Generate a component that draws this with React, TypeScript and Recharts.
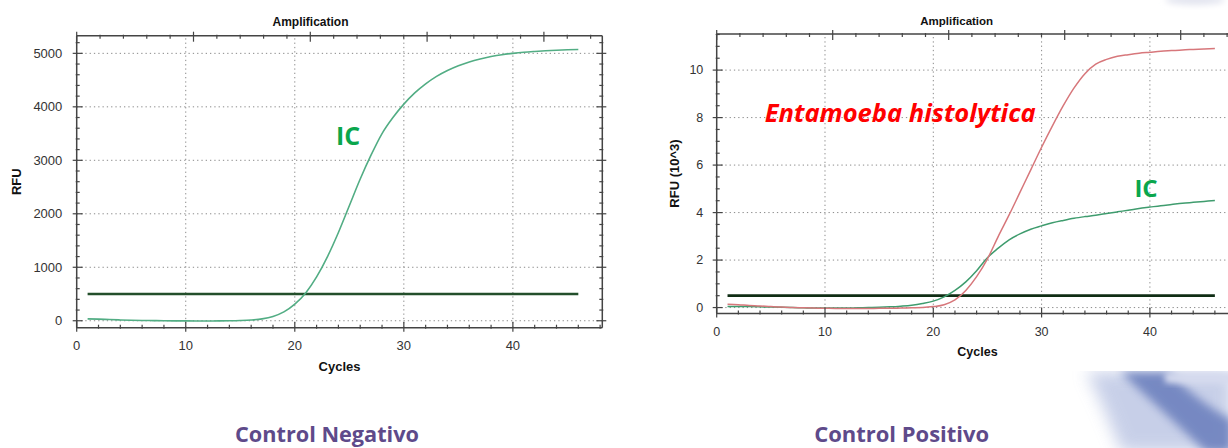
import React from 'react';
import { LineChart, Line, XAxis, YAxis, ReferenceLine } from 'recharts';

// ---------- data ----------
const cycles = [1, 2, 3, 4, 5, 6, 7, 8, 9, 10, 11, 12, 13, 14, 15, 16, 17, 18, 19, 20, 21, 22, 23, 24, 25, 26, 27, 28, 29, 30, 31, 32, 33, 34, 35, 36, 37, 38, 39, 40, 41, 42, 43, 44, 45, 46];

// Control Negativo: IC (RFU)
const negIC = [35, 30, 22, 15, 10, 6, 3, 0, -2, -3, -4, -4, -3, -1, 4, 14, 35, 80, 165, 310, 520, 820, 1200, 1650, 2150, 2650, 3100, 3500, 3800, 4050, 4260, 4430, 4570, 4680, 4770, 4840, 4895, 4940, 4975, 5000, 5020, 5035, 5048, 5058, 5066, 5072];

// Control Positivo (RFU x10^3)
const posIC = [0.05, 0.05, 0.04, 0.03, 0.02, 0.01, 0.0, -0.01, -0.02, -0.02, -0.02, -0.02, -0.01, 0.0, 0.01, 0.03, 0.06, 0.1, 0.17, 0.27, 0.45, 0.72, 1.08, 1.55, 2.1, 2.5, 2.85, 3.1, 3.3, 3.44, 3.57, 3.67, 3.76, 3.83, 3.89, 3.96, 4.03, 4.1, 4.17, 4.23, 4.29, 4.34, 4.39, 4.43, 4.47, 4.51];
const posEh = [0.14, 0.12, 0.09, 0.07, 0.04, 0.02, 0.0, -0.01, -0.02, -0.03, -0.04, -0.04, -0.04, -0.04, -0.03, -0.03, -0.02, -0.01, 0.0, 0.04, 0.12, 0.32, 0.72, 1.3, 2.05, 3.0, 3.9, 4.85, 5.8, 6.75, 7.65, 8.5, 9.25, 9.85, 10.25, 10.45, 10.58, 10.65, 10.71, 10.75, 10.79, 10.82, 10.85, 10.87, 10.89, 10.91];

const thresholdNeg = 500;
const thresholdPos = 0.5;

const xTicks = [0, 2, 4, 6, 8, 10, 12, 14, 16, 18, 20, 22, 24, 26, 28, 30, 32, 34, 36, 38, 40, 42, 44, 46, 48];
const xMajor = [0, 10, 20, 30, 40];
const xGrid = [10, 20, 30, 40];

const negYTicks = [0, 200, 400, 600, 800, 1000, 1200, 1400, 1600, 1800, 2000, 2200, 2400, 2600, 2800, 3000, 3200, 3400, 3600, 3800, 4000, 4200, 4400, 4600, 4800, 5000, 5200];
const negYMajor = [0, 1000, 2000, 3000, 4000, 5000];

const posYTicks = [0, 0.5, 1, 1.5, 2, 2.5, 3, 3.5, 4, 4.5, 5, 5.5, 6, 6.5, 7, 7.5, 8, 8.5, 9, 9.5, 10, 10.5, 11, 11.5];
const posYMajor = [0, 2, 4, 6, 8, 10];

const negData = cycles.map((c, i) => ({ cycle: c, ic: negIC[i], thr: thresholdNeg }));
const posData = cycles.map((c, i) => ({ cycle: c, ic: posIC[i], eh: posEh[i], thr: thresholdPos }));

// ---------- ticks ----------
const AX = '#444';
const FONT = '"Liberation Sans", Arial, sans-serif';

const makeTick = (orient: string, majors: number[], fontSize: number, gap: number) => (props: any) => {
  const { x, y, payload } = props;
  const v = payload.value;
  const major = majors.includes(v);
  const inner = major ? 6 : 3;
  const outer = major ? 4 : 1;
  let line: any;
  let label: any = null;
  if (orient === 'bottom') {
    line = <line x1={x} x2={x} y1={y - inner} y2={y + outer} stroke={AX} strokeWidth={1.2} />;
    if (major)
      label = (
        <text x={x} y={y + gap} textAnchor="middle" dominantBaseline="central" fontSize={fontSize} fill="#333" fontFamily={FONT}>
          {v}
        </text>
      );
  } else if (orient === 'top') {
    line = <line x1={x} x2={x} y1={y - outer} y2={y + inner} stroke={AX} strokeWidth={1.2} />;
  } else if (orient === 'left') {
    line = <line x1={x - outer} x2={x + inner} y1={y} y2={y} stroke={AX} strokeWidth={1.2} />;
    if (major)
      label = (
        <text x={x - gap} y={y} textAnchor="end" dominantBaseline="central" fontSize={fontSize} fill="#333" fontFamily={FONT}>
          {v}
        </text>
      );
  } else {
    line = <line x1={x + outer} x2={x - inner} y1={y} y2={y} stroke={AX} strokeWidth={1.2} />;
  }
  return (
    <g>
      {line}
      {label}
    </g>
  );
};

const axisLine = { stroke: AX, strokeWidth: 1.5 };
const gridStyle = { stroke: '#8a8a8a', strokeWidth: 1, strokeDasharray: '1.3 3' };

function NegChart() {
  const xDomain: [number, number] = [0, 48.2];
  const yDomain: [number, number] = [-130, 5330];
  return (
    <LineChart width={608} height={448} data={negData} margin={{ top: 34.7, right: 4.7, bottom: 90.3, left: 16.7 }}>
      <XAxis dataKey="cycle" type="number" domain={xDomain} ticks={xTicks} interval={0} allowDataOverflow
        tickLine={false} tickSize={0} tickMargin={0} axisLine={axisLine} height={30}
        tick={makeTick('bottom', xMajor, 13, 17.3)} />
      <XAxis xAxisId="top" orientation="top" type="number" domain={xDomain} ticks={xTicks} interval={0} allowDataOverflow
        tickLine={false} tickSize={0} tickMargin={0} axisLine={axisLine} height={1}
        tick={makeTick('top', xMajor, 13, 0)} />
      <YAxis type="number" domain={yDomain} ticks={negYTicks} interval={0} allowDataOverflow
        tickLine={false} tickSize={0} tickMargin={0} axisLine={axisLine} width={60}
        tick={makeTick('left', negYMajor, 13, 14.4)} />
      <YAxis yAxisId="right" orientation="right" type="number" domain={yDomain} ticks={negYTicks} interval={0} allowDataOverflow
        tickLine={false} tickSize={0} tickMargin={0} axisLine={axisLine} width={1}
        tick={makeTick('right', negYMajor, 13, 0)} />
      {xGrid.map((g) => (
        <ReferenceLine key={'x' + g} x={g} {...gridStyle} />
      ))}
      {negYMajor.map((g) => (
        <ReferenceLine key={'y' + g} y={g} {...gridStyle} />
      ))}
      <Line dataKey="thr" type="linear" stroke="#234f2b" strokeWidth={2.4} dot={false} isAnimationActive={false} />
      <Line dataKey="ic" type="monotone" stroke="#52ad84" strokeWidth={1.6} dot={false} isAnimationActive={false} />
    </LineChart>
  );
}

function PosChart() {
  const xDomain: [number, number] = [0, 48.2];
  const yDomain: [number, number] = [-0.25, 11.52];
  return (
    <LineChart width={640} height={448} data={posData} margin={{ top: 33, right: 20.3, bottom: 104.5, left: 36.7 }}>
      <XAxis dataKey="cycle" type="number" domain={xDomain} ticks={xTicks} interval={0} allowDataOverflow
        tickLine={false} tickSize={0} tickMargin={0} axisLine={axisLine} height={30}
        tick={makeTick('bottom', xMajor, 12.5, 18.2)} />
      <XAxis xAxisId="top" orientation="top" type="number" domain={xDomain} ticks={xTicks} interval={0} allowDataOverflow
        tickLine={false} tickSize={0} tickMargin={0} axisLine={axisLine} height={1}
        tick={makeTick('top', xMajor, 12.5, 0)} />
      <YAxis type="number" domain={yDomain} ticks={posYTicks} interval={0} allowDataOverflow
        tickLine={false} tickSize={0} tickMargin={0} axisLine={axisLine} width={60}
        tick={makeTick('left', posYMajor, 12.5, 13.4)} />
      <YAxis yAxisId="right" orientation="right" type="number" domain={yDomain} ticks={posYTicks} interval={0} allowDataOverflow
        tickLine={false} tickSize={0} tickMargin={0} axisLine={axisLine} width={1}
        tick={makeTick('right', posYMajor, 12.5, 0)} />
      {xGrid.map((g) => (
        <ReferenceLine key={'x' + g} x={g} {...gridStyle} />
      ))}
      {posYMajor.map((g) => (
        <ReferenceLine key={'y' + g} y={g} {...gridStyle} />
      ))}
      <Line dataKey="thr" type="linear" stroke="#0f2d14" strokeWidth={2.8} dot={false} isAnimationActive={false} />
      <Line dataKey="ic" type="monotone" stroke="#3f9c6e" strokeWidth={1.5} dot={false} isAnimationActive={false} />
      <Line dataKey="eh" type="monotone" stroke="#d7777b" strokeWidth={1.5} dot={false} isAnimationActive={false} />
    </LineChart>
  );
}

function Overlay() {
  const big = '"Open Sans", "Noto Sans", sans-serif';
  return (
    <svg width={1228} height={448} style={{ position: 'absolute', left: 0, top: 0, pointerEvents: 'none' }}>
      <defs>
        <filter id="blur8" x="-50%" y="-50%" width="200%" height="200%">
          <feGaussianBlur stdDeviation="8" />
        </filter>
        <filter id="blur5" x="-50%" y="-50%" width="200%" height="200%">
          <feGaussianBlur stdDeviation="5" />
        </filter>
        <filter id="blur3" x="-50%" y="-50%" width="200%" height="200%">
          <feGaussianBlur stdDeviation="3" />
        </filter>
        <clipPath id="swclip">
          <rect x={1060} y={371} width={170} height={80} />
        </clipPath>
      </defs>
      {/* decorative swoosh */}
      <g clipPath="url(#swclip)">
        <path d="M1086,372 C1102,400 1112,430 1122,452 L1232,452 L1232,372 Z" fill="#b0bcdf" opacity={0.7} filter="url(#blur8)" />
        <path d="M1120,372 L1168,372 Q1203,405 1232,420 L1232,452 L1206,452 Q1162,410 1120,372 Z" fill="#6f83bf" opacity={0.92} filter="url(#blur5)" />
        <rect x={1165} y={373} width={70} height={10} fill="#d5daee" filter="url(#blur3)" />
      </g>
      <ellipse cx={1195} cy={0} rx={30} ry={5} fill="#e2e4ef" filter="url(#blur3)" />

      {/* chart titles */}
      <text x={310.5} y={21.7} textAnchor="middle" dominantBaseline="central" fontSize={12} fontWeight="bold" fill="#111" fontFamily={FONT}>Amplification</text>
      <text x={956.7} y={21} textAnchor="middle" dominantBaseline="central" fontSize={11.5} fontWeight="bold" fill="#111" fontFamily={FONT}>Amplification</text>

      {/* axis titles */}
      <text x={339.5} y={366.7} textAnchor="middle" dominantBaseline="central" fontSize={13} fontWeight="bold" fill="#111" fontFamily={FONT}>Cycles</text>
      <text x={977.5} y={352.3} textAnchor="middle" dominantBaseline="central" fontSize={12.5} fontWeight="bold" fill="#111" fontFamily={FONT}>Cycles</text>
      <text transform="translate(16.3,181.7) rotate(-90)" textAnchor="middle" dominantBaseline="central" fontSize={13} fontWeight="bold" fill="#111" fontFamily={FONT}>RFU</text>
      <text transform="translate(674,173.5) rotate(-90)" textAnchor="middle" dominantBaseline="central" fontSize={13} fontWeight="bold" fill="#111" fontFamily={FONT}>RFU (10^3)</text>

      {/* series annotations */}
      <text x={348} y={145} textAnchor="middle" fontSize={25} fontWeight="bold" fill="#0aa64c" fontFamily={big}>IC</text>
      <text x={1146} y={196.7} textAnchor="middle" fontSize={24} fontWeight="bold" fill="#0aa64c" fontFamily={big}>IC</text>
      <text x={764.7} y={121.7} fontSize={24.5} fontWeight="bold" fontStyle="italic" fill="#ff0000" fontFamily={big}
        textLength={271} lengthAdjust="spacingAndGlyphs">Entamoeba histolytica</text>

      {/* captions */}
      <text x={327} y={441.5} textAnchor="middle" fontSize={22} fontWeight="bold" fill="#5e4a8a" fontFamily={big}
        textLength={184} lengthAdjust="spacingAndGlyphs">Control Negativo</text>
      <text x={901.7} y={441.5} textAnchor="middle" fontSize={22} fontWeight="bold" fill="#5e4a8a" fontFamily={big}
        textLength={175} lengthAdjust="spacingAndGlyphs">Control Positivo</text>
    </svg>
  );
}

export default function App() {
  return (
    <div style={{ position: 'fixed', left: 0, top: 0, width: 1228, height: 448, overflow: 'hidden', background: '#fff' }}>
      <div style={{ position: 'absolute', left: 0, top: 0 }}>
        <NegChart />
      </div>
      <div style={{ position: 'absolute', left: 620, top: 0 }}>
        <PosChart />
      </div>
      <Overlay />
    </div>
  );
}
